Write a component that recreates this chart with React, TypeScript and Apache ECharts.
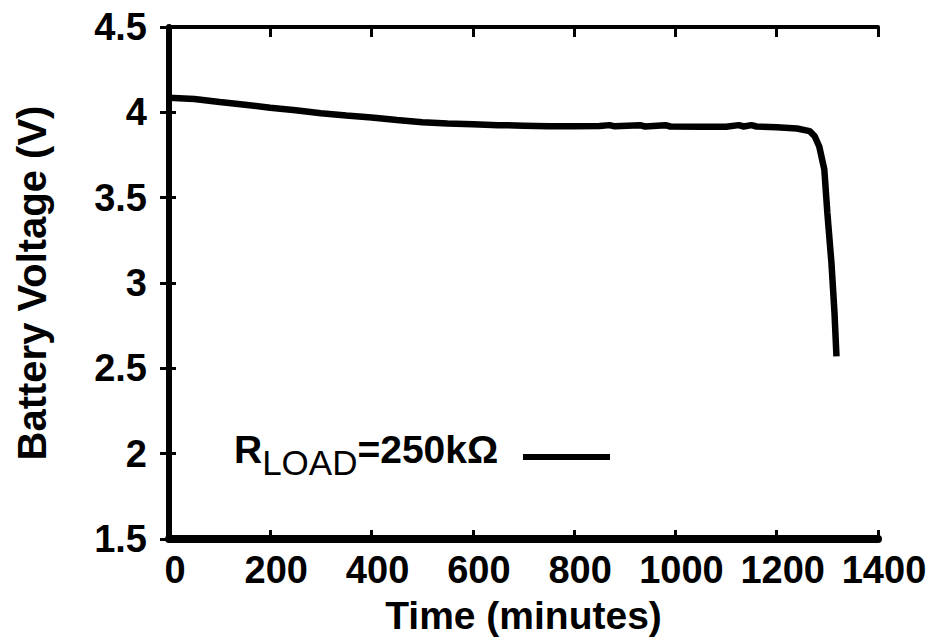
import React, { useEffect, useRef } from "react";
import * as echarts from "echarts";

const timeMinutes = [
  0, 50, 100, 150, 200, 250, 300, 350, 400, 450, 500, 550, 600, 650, 700, 750,
  800, 850, 870, 880, 930, 940, 980, 990, 1050, 1100, 1125, 1135, 1150, 1160,
  1200, 1240, 1265, 1275, 1284, 1294, 1300, 1308, 1314, 1318,
];
const voltage = [
  4.085, 4.078, 4.06, 4.045, 4.027, 4.012, 3.995, 3.982, 3.97, 3.955, 3.942,
  3.935, 3.93, 3.925, 3.922, 3.918, 3.918, 3.92, 3.925, 3.918, 3.925, 3.917,
  3.925, 3.917, 3.916, 3.916, 3.925, 3.917, 3.925, 3.917, 3.912, 3.905, 3.89,
  3.86, 3.8, 3.665, 3.41, 3.12, 2.83, 2.57,
];
const xTicks = { min: 0, max: 1400, interval: 200 };
const yTicks = { min: 1.5, max: 4.5, interval: 0.5 };
const xTitle = "Time (minutes)";
const yTitle = "Battery Voltage (V)";
const legendMain = "R";
const legendSub = "LOAD";
const legendRest = "=250kΩ";

const FONT = "'Liberation Sans', Arial, sans-serif";

export default function App() {
  const ref = useRef<HTMLDivElement>(null);
  useEffect(() => {
    if (!ref.current) return;
    const chart = echarts.init(ref.current, undefined, { renderer: "svg" });
    const data = timeMinutes.map((t, i) => [t, voltage[i]]);
    const tickLabel = {
      fontFamily: FONT,
      fontSize: 38,
      fontWeight: "bold" as const,
      color: "#000",
    };
    chart.setOption({
      animation: false,
      backgroundColor: "#fff",
      grid: { left: 169, right: 55, top: 27, bottom: 99, containLabel: false },
      xAxis: [
        {
          type: "value",
          position: "bottom",
          min: xTicks.min,
          max: xTicks.max,
          interval: xTicks.interval,
          name: xTitle,
          nameLocation: "middle",
          nameGap: 57,
          nameTextStyle: { ...tickLabel, fontSize: 39 },
          axisLine: { show: true, lineStyle: { color: "#000", width: 8 } },
          axisTick: { show: true, inside: true, length: 9, lineStyle: { color: "#000", width: 3 } },
          axisLabel: {
            ...tickLabel,
            margin: 12,
            padding: [0, 0, 0, 12],
            formatter: (v: number) => String(v),
          },
          splitLine: { show: false },
        },
        {
          type: "value",
          position: "top",
          min: xTicks.min,
          max: xTicks.max,
          interval: xTicks.interval,
          axisLine: { show: true, lineStyle: { color: "#000", width: 4 } },
          axisTick: { show: true, inside: true, length: 10, lineStyle: { color: "#000", width: 3 } },
          axisLabel: { show: false },
          splitLine: { show: false },
        },
      ],
      yAxis: [
        {
          type: "value",
          position: "left",
          min: yTicks.min,
          max: yTicks.max,
          interval: yTicks.interval,
          name: yTitle,
          nameLocation: "middle",
          nameGap: 117,
          nameTextStyle: { ...tickLabel, fontSize: 40 },
          axisLine: { show: true, lineStyle: { color: "#000", width: 5 } },
          axisTick: { show: true, inside: true, length: 7, lineStyle: { color: "#000", width: 3 } },
          axisLabel: { ...tickLabel, margin: 22, formatter: (v: number) => String(v) },
          splitLine: { show: false },
        },
        {
          type: "value",
          position: "right",
          min: yTicks.min,
          max: yTicks.max,
          interval: yTicks.interval,
          axisLine: { show: true, lineStyle: { color: "#000", width: 6 } },
          axisTick: { show: true, inside: true, length: 9, lineStyle: { color: "#000", width: 3 } },
          axisLabel: { show: false },
          splitLine: { show: false },
        },
      ],
      series: [
        {
          type: "line",
          name: "RLOAD=250kΩ",
          xAxisIndex: 0,
          yAxisIndex: 0,
          data,
          showSymbol: false,
          symbol: "none",
          lineStyle: { color: "#000", width: 6.5 },
          z: 1,
        },
      ],
      graphic: [
        {
          type: "text",
          left: 234,
          top: 430,
          style: {
            text: `{r|${legendMain}}{s|${legendSub}}{r|${legendRest}}`,
            rich: {
              r: {
                fontFamily: FONT,
                fontSize: 39,
                fontWeight: "bold",
                lineHeight: 38,
                verticalAlign: "top",
                fill: "#000",
              },
              s: {
                fontFamily: FONT,
                fontSize: 35,
                fontWeight: "normal",
                lineHeight: 38,
                padding: [15, 0, 0, 0],
                verticalAlign: "top",
                fill: "#000",
              },
            },
            fill: "#000",
          },
        },
        {
          type: "line",
          shape: { x1: 523, y1: 457, x2: 610, y2: 457 },
          style: { stroke: "#000", lineWidth: 6 },
        },
      ],
    });
    return () => chart.dispose();
  }, []);
  return (
    <div
      ref={ref}
      style={{ position: "fixed", left: 0, top: 0, width: 933, height: 640 }}
    />
  );
}
